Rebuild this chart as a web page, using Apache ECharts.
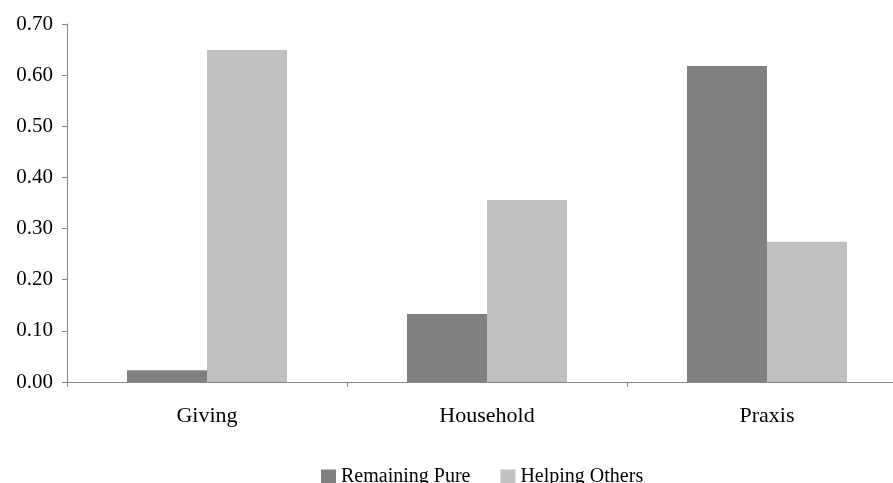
<!DOCTYPE html>
<html>
<head>
<meta charset="utf-8">
<script src="https://cdn.jsdelivr.net/npm/echarts@6/dist/echarts.min.js"></script>
<style>html,body{margin:0;padding:0;background:#fff;overflow:hidden;width:893px;height:483px;}#c{width:907px;height:483px;}</style>
</head>
<body>
<div id="c"></div>
<script>
const categories = ['Giving', 'Household', 'Praxis'];
const remainingPure = [0.023, 0.133, 0.618];
const helpingOthers = [0.649, 0.356, 0.274];
const yTicks = { min: 0, max: 0.7, interval: 0.1 };

const FONT = '"Liberation Serif", "Times New Roman", serif';
const chart = echarts.init(document.getElementById('c'), null, { renderer: 'canvas' });
chart.setOption({
  animation: false,
  backgroundColor: '#fff',
  grid: { left: 67, top: 24, right: 0, bottom: 101, containLabel: false },
  legend: {
    left: 316, top: 462,
    itemWidth: 15, itemHeight: 15, itemGap: 30,
    icon: 'rect',
    textStyle: { fontFamily: FONT, fontSize: 20, color: '#000' },
    data: ['Remaining Pure', 'Helping Others']
  },
  xAxis: {
    type: 'category',
    data: categories,
    axisLine: { lineStyle: { color: '#868686', width: 1 } },
    axisTick: { show: true, alignWithLabel: false, length: 5, lineStyle: { color: '#868686' } },
    axisLabel: { fontFamily: FONT, fontSize: 22, color: '#000', margin: 23 },
    splitLine: { show: false }
  },
  yAxis: {
    type: 'value',
    min: yTicks.min, max: yTicks.max, interval: yTicks.interval,
    axisLine: { show: true, lineStyle: { color: '#868686', width: 1 } },
    axisTick: { show: true, length: 5, lineStyle: { color: '#868686' } },
    axisLabel: { fontFamily: FONT, fontSize: 21, color: '#000', margin: 14, formatter: v => v.toFixed(2) },
    splitLine: { show: false }
  },
  series: [
    { name: 'Remaining Pure', type: 'bar', data: remainingPure, barWidth: 80, barGap: '0%', itemStyle: { color: '#808080' } },
    { name: 'Helping Others', type: 'bar', data: helpingOthers, barWidth: 80, barGap: '0%', itemStyle: { color: '#c0c0c0' } }
  ]
});
</script>
</body>
</html>
